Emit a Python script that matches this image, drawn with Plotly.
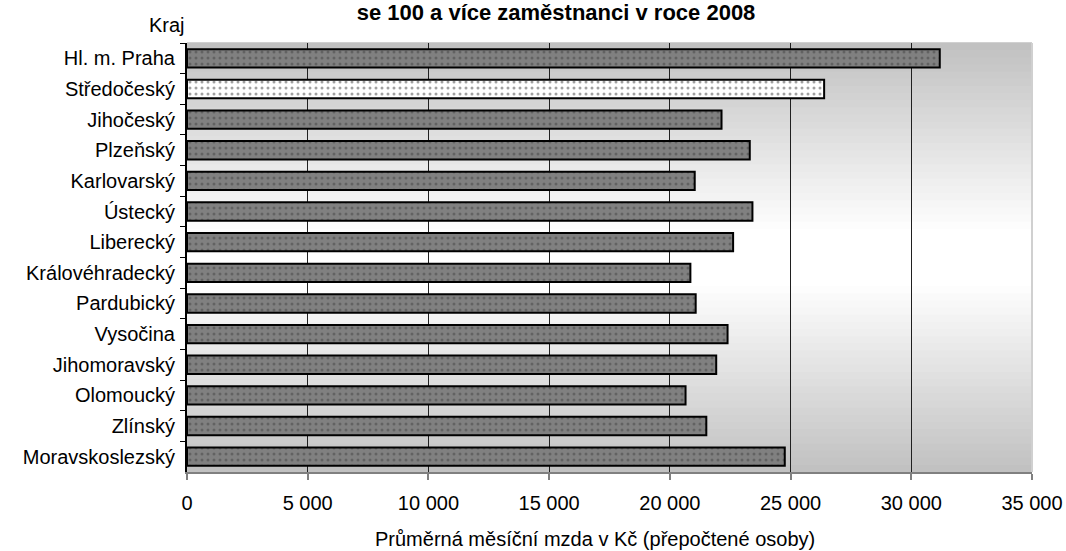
import plotly.graph_objects as go

# Data: average monthly wage by region (CZK), enterprises with 100+ employees, 2008
regions = ['Hl. m. Praha', 'Středočeský', 'Jihočeský', 'Plzeňský', 'Karlovarský',
           'Ústecký', 'Liberecký', 'Královéhradecký', 'Pardubický', 'Vysočina',
           'Jihomoravský', 'Olomoucký', 'Zlínský', 'Moravskoslezský']
wages = [31180, 26390, 22140, 23310, 21030, 23420, 22620, 20850, 21070, 22390,
         21920, 20650, 21510, 24760]
x_ticks = [0, 5000, 10000, 15000, 20000, 25000, 30000, 35000]

FONT = 'Liberation Sans, Arial, sans-serif'
FS = 20

bar_colors = ['#ffffff' if r == 'Středočeský' else '#808080' for r in regions]
dot_colors = ['#d8d8d8' if r == 'Středočeský' else '#b0b0b0' for r in regions]

fig = go.Figure()
fig.add_trace(go.Bar(
    x=wages,
    y=regions,
    orientation='h',
    width=0.6,
    marker=dict(
        color=bar_colors,
        line=dict(color='black', width=2),
        pattern=dict(shape='.', fgcolor=dot_colors, size=6, solidity=0.2),
    ),
    showlegend=False,
))

# vertical gradient background (gray - white - gray)
n = 60
shapes = []
for i in range(n):
    t = (i + 0.5) / n
    d = abs(t - 0.5) / 0.5
    d = max(0.0, (d - 0.12) / 0.88)
    g = int(round(255 - (255 - 192) * d))
    col = f'rgb({g},{g},{g})'
    shapes.append(dict(type='rect', xref='x domain', yref='y domain',
                       x0=0, x1=1, y0=i / n, y1=(i + 1) / n + 0.002,
                       fillcolor=col, line=dict(width=0), layer='below'))
shapes.append(dict(type='line', xref='x domain', yref='y domain',
                   x0=1, x1=1, y0=0, y1=1,
                   line=dict(color='#d0d0d0', width=2), layer='below'))

fig.update_layout(
    width=1066,
    height=551,
    margin=dict(l=187, r=34, t=43, b=79, autoexpand=False),
    paper_bgcolor='white',
    plot_bgcolor='#c0c0c0',
    separators=', ',
    font=dict(family=FONT, size=FS, color='black'),
    shapes=shapes,
    title=dict(
        text='<b>se 100 a více zaměstnanci v roce 2008</b>',
        x=556 / 1066, xanchor='center', y=1 - 12 / 551, yanchor='middle',
        font=dict(family=FONT, size=22, color='black'),
    ),
    annotations=[
        dict(text='Kraj', xref='paper', yref='paper', x=0, y=(551 - 25 - 79) / 429,
             xanchor='right', yanchor='middle', showarrow=False,
             font=dict(family=FONT, size=FS)),
        dict(text='Průměrná měsíční mzda v Kč (přepočtené osoby)',
             xref='paper', yref='paper', x=(595 - 187) / 845, y=-(539 - 472) / 429,
             xanchor='center', yanchor='middle', showarrow=False,
             font=dict(family=FONT, size=FS)),
    ],
)

fig.update_xaxes(
    range=[0, 35000],
    tickvals=x_ticks,
    tickformat=',d',
    automargin=False,
    showgrid=True,
    gridcolor='#202020',
    gridwidth=1,
    zeroline=False,
    showline=True,
    linecolor='#808080',
    linewidth=2,
    ticks='outside',
    ticklen=6,
    tickcolor='#808080',
    tickwidth=2,
    ticklabelstandoff=6,
    tickfont=dict(family=FONT, size=FS),
)

fig.update_yaxes(
    autorange='reversed',
    automargin=False,
    showgrid=False,
    showline=True,
    linecolor='black',
    linewidth=2,
    ticks='outside',
    tickson='boundaries',
    ticklen=5,
    tickcolor='black',
    tickwidth=1,
    ticklabelstandoff=6,
    tickfont=dict(family=FONT, size=FS),
)

# drop the default page margin so the figure sits at the window's corner
fig.write_html('out.html', config={'displayModeBar': False},
               post_script="document.body.style.margin='0';")
